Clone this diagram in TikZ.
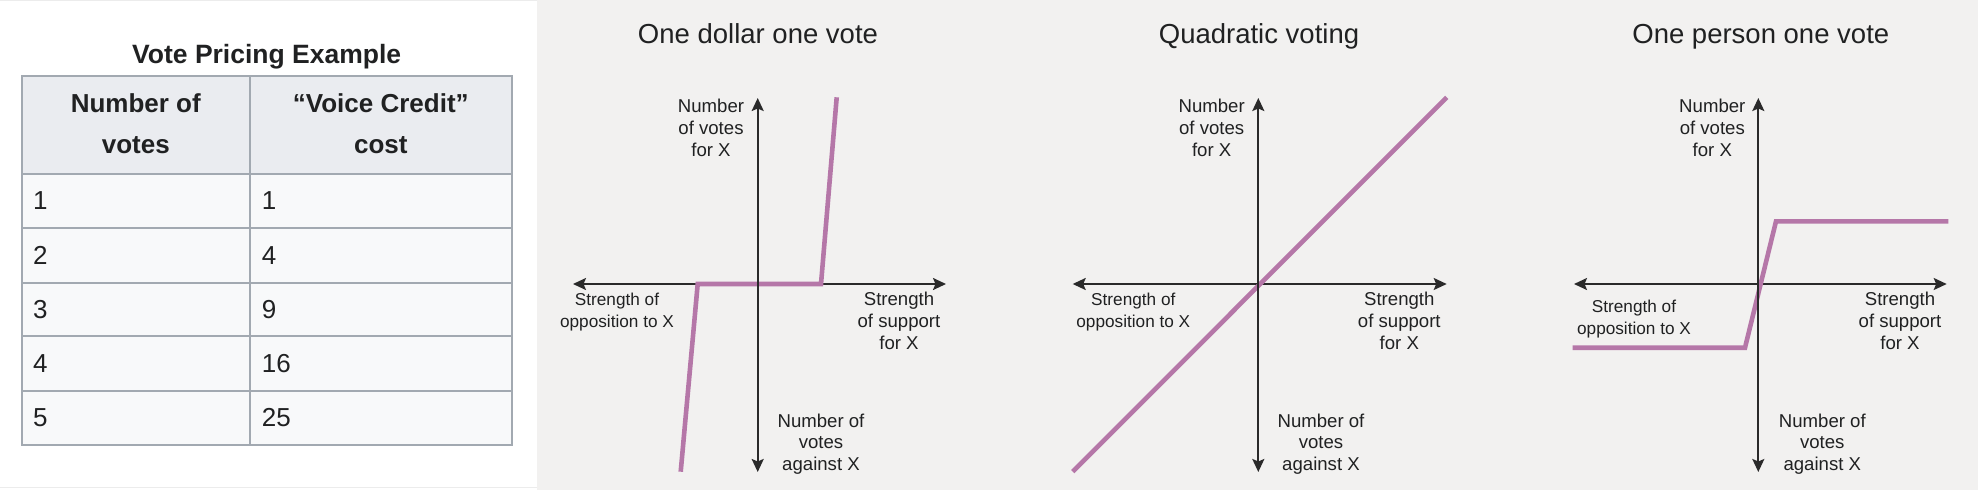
\documentclass[tikz,border=0pt]{standalone}
\usepackage{fontspec}
\setmainfont{Liberation Sans}
\usetikzlibrary{arrows.meta}
\definecolor{panelbg}{HTML}{F2F1F0}
\definecolor{hdrbg}{HTML}{EAECF0}
\definecolor{cellbg}{HTML}{F8F9FA}
\definecolor{gridc}{HTML}{A2A9B1}
\definecolor{purp}{HTML}{B577A8}
\definecolor{axc}{HTML}{2A2A2A}
\definecolor{txt}{HTML}{202122}
\tikzset{
  axis/.style={draw=axc, line width=2pt, {Stealth[length=13pt,width=12pt,inset=2.5pt]}-{Stealth[length=13pt,width=12pt,inset=2.5pt]}},
  curve/.style={draw=purp, line width=4.6pt, line join=miter},
  ttl/.style={font=\fontsize{27.5pt}{32pt}\selectfont, text=txt, inner sep=0pt},
  lab/.style={font=\fontsize{18.6pt}{21.7pt}\selectfont, text=txt, align=center, inner sep=0pt},
  labs/.style={font=\fontsize{17.2pt}{22pt}\selectfont, text=txt, align=center, inner sep=0pt},
  thead/.style={font=\fontsize{26pt}{41pt}\selectfont\bfseries, text=txt, align=center, inner sep=0pt},
  tcell/.style={font=\fontsize{26pt}{30pt}\selectfont, text=txt, inner sep=0pt, anchor=base west},
  grid/.style={draw=gridc, line width=1.6pt}
}
\begin{document}
\begin{tikzpicture}[x=1pt,y=-1pt]
\useasboundingbox (0,0) rectangle (1978,490);
% panels
\fill[white] (0,0) rectangle (537,490);
\fill[panelbg] (537,0) rectangle (1978,490);
\draw[gray!15, line width=1pt] (0,0.5) -- (537,0.5);
\draw[gray!15, line width=1pt] (0,487.5) -- (537,487.5);

% ---------- table ----------
\node[font=\fontsize{26.5pt}{30pt}\selectfont\bfseries, text=txt, inner sep=0pt, anchor=base] (tabtitle) at (266.7,63) {Vote Pricing Example};
\fill[hdrbg] (21.7,76) rectangle (511.7,174);
\fill[cellbg] (21.7,174) rectangle (511.7,445);
\draw[grid] (21.7,76) rectangle (511.7,445);
\draw[grid] (250,76) -- (250,445);
\foreach \yy in {174,228,283,336,391} {\draw[grid] (21.7,\yy) -- (511.7,\yy);}
\node[thead] (h1) at (135.8,123.5) {Number of\\votes};
\node[thead] (h2) at (380.8,123.5) {“Voice Credit”\\cost};
\node[tcell] (r1a) at (33,209.5) {1};   \node[tcell] (r1b) at (261.7,209.5) {1};
\node[tcell] (r2a) at (33,264) {2};     \node[tcell] (r2b) at (261.7,264) {4};
\node[tcell] (r3a) at (33,318) {3};     \node[tcell] (r3b) at (261.7,318) {9};
\node[tcell] (r4a) at (33,372) {4};     \node[tcell] (r4b) at (261.7,372) {16};
\node[tcell] (r5a) at (33,426.5) {5};   \node[tcell] (r5b) at (261.7,426.5) {25};

% ---------- chart 1: one dollar one vote ----------
\node[ttl, anchor=base] (t1) at (758,43) {One dollar one vote};
\coordinate (a1t) at (757.7,98);
\coordinate (a1b) at (757.7,472);
\coordinate (a1l) at (573,284);
\coordinate (a1r) at (946,284);
\coordinate (p1a) at (680.7,471.7);
\coordinate (p1b) at (697.7,284);
\coordinate (p1c) at (821,284);
\coordinate (p1d) at (836.7,97.3);
\draw[axis] (a1l) -- (a1r);
\draw[curve] (p1a) -- (p1b) -- (p1c) -- (p1d);
\draw[axis] (a1b) -- (a1t);
\node[lab] (l1u) at (711,128) {Number\\of votes\\for X};
\node[labs] (l1l) at (617,312) {Strength of\\opposition to X};
\node[lab] (l1r) at (899,321) {Strength\\of support\\for X};
\node[lab] (l1d) at (821,444) {Number of\\votes\\against X};

% ---------- chart 2: quadratic voting ----------
\node[ttl, anchor=base] (t2) at (1259,43) {Quadratic voting};
\coordinate (a2t) at (1258.3,98);
\coordinate (a2b) at (1258.3,472);
\coordinate (a2l) at (1072.7,284);
\coordinate (a2r) at (1446.7,284);
\coordinate (p2a) at (1072.7,471.7);
\coordinate (p2b) at (1446.7,97.3);
\draw[axis] (a2l) -- (a2r);
\draw[curve] (p2a) -- (p2b);
\draw[axis] (a2b) -- (a2t);
\node[lab] (l2u) at (1211.7,128) {Number\\of votes\\for X};
\node[labs] (l2l) at (1133.3,312) {Strength of\\opposition to X};
\node[lab] (l2r) at (1399.3,321) {Strength\\of support\\for X};
\node[lab] (l2d) at (1321,444) {Number of\\votes\\against X};

% ---------- chart 3: one person one vote ----------
\node[ttl, anchor=base] (t3) at (1760.8,43) {One person one vote};
\coordinate (a3t) at (1758.3,98);
\coordinate (a3b) at (1758.3,472);
\coordinate (a3l) at (1574,284);
\coordinate (a3r) at (1946.7,284);
\coordinate (p3a) at (1572.7,347.7);
\coordinate (p3b) at (1745,347.7);
\coordinate (p3c) at (1776,221.3);
\coordinate (p3d) at (1948.3,221.3);
\draw[axis] (a3l) -- (a3r);
\draw[curve] (p3a) -- (p3b) -- (p3c) -- (p3d);
\draw[axis] (a3b) -- (a3t);
\node[lab] (l3u) at (1712.3,128) {Number\\of votes\\for X};
\node[labs] (l3l) at (1634,319) {Strength of\\opposition to X};
\node[lab] (l3r) at (1900,321) {Strength\\of support\\for X};
\node[lab] (l3d) at (1822.3,444) {Number of\\votes\\against X};
\end{tikzpicture}
\end{document}
